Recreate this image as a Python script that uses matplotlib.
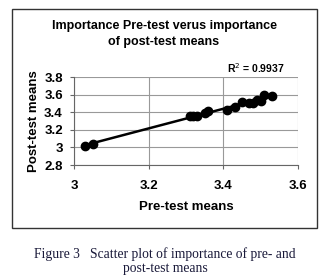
import numpy as np
from matplotlib import pyplot as plt
from matplotlib.patches import Rectangle

# values
pre_test = [3.03, 3.05, 3.31, 3.32, 3.33, 3.35, 3.36, 3.41, 3.43, 3.45,
            3.47, 3.48, 3.49, 3.50, 3.51, 3.53]
post_test = [3.02, 3.04, 3.36, 3.36, 3.36, 3.39, 3.41, 3.43, 3.46, 3.52,
             3.50, 3.51, 3.54, 3.53, 3.59, 3.58]
x_ticks = [3, 3.2, 3.4, 3.6]
y_ticks = [2.8, 3, 3.2, 3.4, 3.6, 3.8]
r2_label = 'R$^2$ = 0.9937'

sans = 'Liberation Sans'
serif = 'Liberation Serif'

fig = plt.figure(figsize=(3.36, 2.79), dpi=100)
fig.patch.set_facecolor('white')

# outer chart frame
fig.patches.append(Rectangle((12 / 336, 1 - 228 / 279), 305 / 336, 219 / 279,
                             transform=fig.transFigure, fill=False,
                             edgecolor='#333333', linewidth=1.0))

ax = fig.add_axes([74 / 336, 1 - 165 / 279, 224 / 336, 88 / 279])

x = np.array(pre_test)
y = np.array(post_test)
slope, intercept = np.polyfit(x, y, 1)
xs = np.array([x.min(), x.max()])
ax.plot(xs, slope * xs + intercept, color='black', linewidth=1.8, zorder=3)
ax.plot(x, y, 'o', color='black', markersize=6, zorder=4)

ax.set_xlim(3, 3.6)
ax.set_ylim(2.8, 3.8)
ax.set_xticks(x_ticks)
ax.set_yticks(y_ticks)
ax.set_xticklabels(['3', '3.2', '3.4', '3.6'])
ax.set_yticklabels(['2.8', '3', '3.2', '3.4', '3.6', '3.8'])
ax.grid(True, color='#999999', linewidth=0.8)
ax.set_axisbelow(True)
for side in ['top', 'right']:
    ax.spines[side].set_visible(False)
for side in ['left', 'bottom']:
    ax.spines[side].set_color('#666666')
    ax.spines[side].set_linewidth(0.8)
ax.tick_params(axis='both', length=3, color='#666666', labelsize=9.5,
               pad=5)
ax.tick_params(axis='x', pad=8)
for lbl in ax.get_xticklabels() + ax.get_yticklabels():
    lbl.set_fontfamily(sans)
    lbl.set_fontweight('bold')

ax.set_xlabel('Pre-test means', fontsize=9.5, fontweight='bold',
              fontfamily=sans, labelpad=6)
ax.set_ylabel('Post-test means', fontsize=9.5, fontweight='bold',
              fontfamily=sans, labelpad=3)

ax.text(0.94, 1.02, r2_label, transform=ax.transAxes, ha='right',
        va='bottom', fontsize=7.5, fontweight='bold', fontfamily=sans)

fig.text(164 / 336, 1 - 34 / 279,
         'Importance Pre-test verus importance\nof post-test means',
         ha='center', va='center', fontsize=9, fontweight='bold',
         fontfamily=sans, linespacing=1.5)

fig.text(165 / 336, 1 - 261 / 279,
         'Figure 3   Scatter plot of importance of pre- and\npost-test means',
         ha='center', va='center', fontsize=9.8, fontfamily=serif,
         color='#1a1a3a', linespacing=1.05)

fig.savefig('out.png', dpi=100)
